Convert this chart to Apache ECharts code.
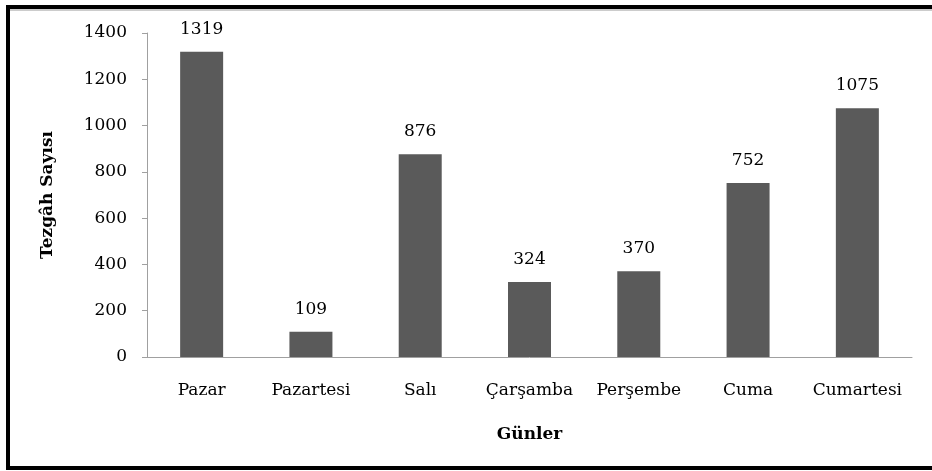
<!DOCTYPE html>
<html>
<head>
<meta charset="utf-8">
<script src="https://cdn.jsdelivr.net/npm/echarts@6/dist/echarts.min.js"></script>
<style>
  html, body { margin: 0; padding: 0; background: #fff; }
  #chart { width: 932px; height: 471px; }
</style>
</head>
<body>
<div id="chart"></div>
<script>
const days = ["Pazar", "Pazartesi", "Salı", "Çarşamba", "Perşembe", "Cuma", "Cumartesi"];
const stalls = [1319, 109, 876, 324, 370, 752, 1075];

const font = "'DejaVu Serif', 'Liberation Serif', serif";

const chart = echarts.init(document.getElementById("chart"));
chart.setOption({
  animation: false,
  graphic: [
    {
      type: "rect",
      shape: { x: 8, y: 7, width: 940, height: 461 },
      style: { fill: "none", stroke: "#000", lineWidth: 4 },
      z: 10,
    },
    {
      type: "line",
      shape: { x1: 10, y1: 10, x2: 932, y2: 10 },
      style: { stroke: "#999", lineWidth: 1 },
      z: 10,
    },
  ],
  grid: { left: 147, right: 20, top: 33, bottom: 114 },
  xAxis: {
    type: "category",
    data: days,
    name: "Günler",
    nameLocation: "middle",
    nameGap: 69,
    nameTextStyle: { fontFamily: font, fontSize: 17, fontWeight: "bold", color: "#000" },
    axisLine: { lineStyle: { color: "#a0a0a0", width: 1 } },
    axisTick: { show: false },
    axisLabel: { interval: 0, fontFamily: font, fontSize: 17, color: "#000", margin: 25 },
  },
  yAxis: {
    type: "value",
    min: 0,
    max: 1400,
    interval: 200,
    name: "Tezgâh Sayısı",
    nameLocation: "middle",
    nameGap: 91,
    nameTextStyle: { fontFamily: font, fontSize: 17, fontWeight: "bold", color: "#000" },
    axisLine: { show: true, lineStyle: { color: "#a0a0a0", width: 1 } },
    axisTick: { show: true, length: 5, lineStyle: { color: "#a0a0a0" } },
    splitLine: { show: false },
    axisLabel: { fontFamily: font, fontSize: 17, color: "#000", margin: 20, formatter: (v) => String(v) },
  },
  series: [
    {
      type: "bar",
      data: stalls,
      barWidth: 43,
      itemStyle: { color: "#5a5a5a" },
      label: {
        show: true,
        position: "top",
        distance: 14,
        fontFamily: font,
        fontSize: 17,
        color: "#000",
      },
    },
  ],
});
</script>
</body>
</html>
